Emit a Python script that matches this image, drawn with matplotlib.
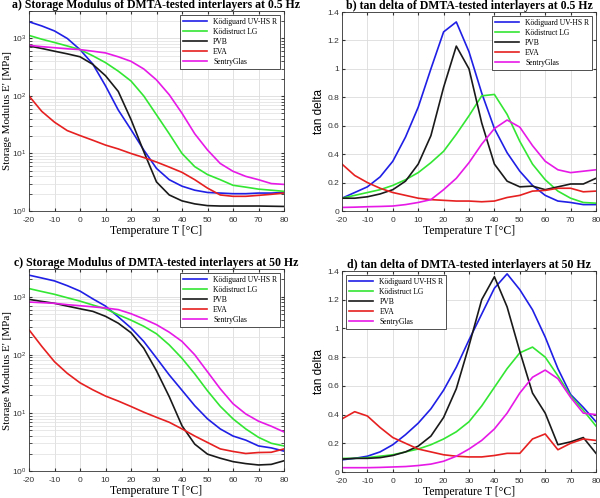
import numpy as np
import matplotlib
matplotlib.use('Agg')
import matplotlib.pyplot as plt

plt.rcParams['axes.unicode_minus'] = False
plt.rcParams['mathtext.fontset'] = 'custom'
plt.rcParams['mathtext.rm'] = 'Liberation Sans'

# temperatures (5 degree steps)
temps = list(range(-20, 85, 5))
names = ['Ködiguard UV-HS R', 'Ködistruct LG', 'PVB', 'EVA', 'SentryGlas']
colors = ['#1f1fe6', '#33e633', '#1a1a1a', '#e62020', '#e619e6']

# a) storage modulus at 0.5 Hz [MPa]
e05_kodiguard = [1950, 1650, 1350, 1000, 640, 360, 150, 57, 26, 11.5, 5.5, 3.5, 2.7, 2.3, 2.1, 2.05, 2.0, 2.0, 2.05, 2.05, 2.1]
e05_kodistruct = [1130, 970, 850, 740, 640, 500, 380, 270, 182, 100, 47, 22, 10, 5.9, 4.3, 3.5, 2.8, 2.6, 2.4, 2.3, 2.2]
e05_pvb = [740, 670, 600, 540, 480, 355, 225, 120, 39, 10.8, 3.2, 1.9, 1.5, 1.33, 1.24, 1.22, 1.22, 1.22, 1.22, 1.21, 1.2]
e05_eva = [100, 54, 35, 25, 20.5, 17, 14, 12, 10, 8.5, 7.1, 5.8, 4.7, 3.5, 2.5, 1.9, 1.8, 1.8, 1.87, 1.95, 2.05]
e05_sentry = [760, 720, 690, 660, 640, 600, 560, 480, 400, 295, 190, 105, 50, 22, 11.5, 6.7, 4.9, 4.0, 3.5, 3.0, 2.9]

# b) tan delta at 0.5 Hz
td05_kodiguard = [0.09, 0.13, 0.17, 0.24, 0.35, 0.52, 0.73, 1.0, 1.26, 1.33, 1.12, 0.83, 0.58, 0.41, 0.28, 0.18, 0.11, 0.07, 0.06, 0.045, 0.045]
td05_kodistruct = [0.09, 0.11, 0.13, 0.15, 0.18, 0.22, 0.27, 0.34, 0.42, 0.54, 0.67, 0.81, 0.82, 0.68, 0.49, 0.33, 0.22, 0.14, 0.09, 0.06, 0.055]
td05_pvb = [0.09, 0.09, 0.10, 0.12, 0.15, 0.21, 0.33, 0.53, 0.87, 1.16, 1.0, 0.62, 0.33, 0.21, 0.17, 0.175, 0.15, 0.17, 0.19, 0.19, 0.23]
td05_eva = [0.33, 0.25, 0.2, 0.16, 0.13, 0.11, 0.09, 0.08, 0.075, 0.07, 0.07, 0.065, 0.07, 0.095, 0.11, 0.14, 0.145, 0.16, 0.16, 0.135, 0.14]
td05_sentry = [0.025, 0.027, 0.03, 0.032, 0.035, 0.045, 0.06, 0.08, 0.15, 0.23, 0.34, 0.47, 0.58, 0.64, 0.59, 0.46, 0.35, 0.29, 0.27, 0.28, 0.29]

# c) storage modulus at 50 Hz [MPa]
e50_kodiguard = [2350, 2100, 1870, 1550, 1250, 920, 690, 450, 290, 170, 88, 45, 24.5, 13.3, 7.9, 5.3, 4.0, 3.4, 2.7, 2.5, 2.2]
e50_kodistruct = [1380, 1230, 1100, 960, 840, 720, 620, 490, 395, 310, 230, 148, 87, 47, 24, 13, 7.9, 5.3, 3.8, 3.0, 2.7]
e50_pvb = [900, 830, 770, 690, 620, 560, 460, 350, 240, 130, 53, 19, 6.0, 2.9, 1.95, 1.66, 1.45, 1.34, 1.27, 1.3, 1.5]
e50_eva = [270, 140, 76, 48, 33, 25, 19.5, 16, 12.9, 10.3, 8.4, 6.9, 5.3, 4.0, 3.1, 2.4, 2.17, 2.0, 2.08, 2.1, 2.4]
e50_sentry = [810, 790, 770, 730, 700, 670, 640, 600, 510, 415, 330, 245, 170, 100, 51, 26, 14.4, 9.6, 7.2, 5.9, 4.7]

# d) tan delta at 50 Hz
td50_kodiguard = [0.085, 0.095, 0.11, 0.14, 0.19, 0.26, 0.34, 0.44, 0.57, 0.73, 0.92, 1.1, 1.28, 1.38, 1.27, 1.13, 0.94, 0.72, 0.54, 0.45, 0.35]
td50_kodistruct = [0.095, 0.095, 0.1, 0.11, 0.12, 0.14, 0.16, 0.19, 0.23, 0.28, 0.35, 0.46, 0.59, 0.72, 0.83, 0.87, 0.8, 0.67, 0.53, 0.43, 0.32]
td50_pvb = [0.09, 0.095, 0.095, 0.1, 0.115, 0.14, 0.18, 0.25, 0.38, 0.58, 0.88, 1.2, 1.36, 1.15, 0.84, 0.55, 0.41, 0.19, 0.21, 0.24, 0.13]
td50_eva = [0.37, 0.42, 0.39, 0.31, 0.24, 0.2, 0.16, 0.14, 0.12, 0.11, 0.105, 0.105, 0.115, 0.13, 0.13, 0.23, 0.265, 0.155, 0.2, 0.23, 0.22]
td50_sentry = [0.03, 0.03, 0.03, 0.032, 0.035, 0.038, 0.045, 0.055, 0.075, 0.11, 0.16, 0.22, 0.3, 0.41, 0.55, 0.66, 0.71, 0.65, 0.52, 0.41, 0.4]

serif = 'Liberation Serif'
sans = 'Liberation Sans'

fig = plt.figure(figsize=(6, 4.98), dpi=100)
W, H = 600, 498

def make_ax(x0, y0, x1, y1):
    return fig.add_axes([x0 / W, 1 - y1 / H, (x1 - x0) / W, (y1 - y0) / H])

panels = [
    (make_ax(29, 11, 284, 211), 'a) Storage Modulus of DMTA-tested interlayers at 0.5 Hz', True,
     [e05_kodiguard, e05_kodistruct, e05_pvb, e05_eva, e05_sentry], 'upper right'),
    (make_ax(342, 12, 596, 211), 'b) tan delta of DMTA-tested interlayers at 0.5 Hz', False,
     [td05_kodiguard, td05_kodistruct, td05_pvb, td05_eva, td05_sentry], 'upper right'),
    (make_ax(29, 269, 284, 471), 'c) Storage Modulus of DMTA-tested interlayers at 50 Hz', True,
     [e50_kodiguard, e50_kodistruct, e50_pvb, e50_eva, e50_sentry], 'upper right'),
    (make_ax(342, 271, 596, 472), 'd) tan delta of DMTA-tested interlayers at 50 Hz', False,
     [td50_kodiguard, td50_kodistruct, td50_pvb, td50_eva, td50_sentry], 'upper left'),
]

for ax, title, logy, series, loc in panels:
    for vals, name, c in zip(series, names, colors):
        ax.plot(temps, vals, color=c, lw=1.2, label=name)
    ax.set_xlim(-20, 80)
    ax.set_xticks(range(-20, 81, 10))
    if logy:
        ax.set_yscale('log')
        ax.set_ylim(1, 3000)
        ax.set_ylabel("Storage Modulus E' [MPa]", fontsize=8, family=serif, labelpad=0)
        ax.grid(True, which='minor', color='#e4e4e4', lw=0.6)
    else:
        ax.set_ylim(0, 1.4)
        ax.set_yticks(np.arange(0, 1.41, 0.2))
        ax.set_yticklabels(['0', '0.2', '0.4', '0.6', '0.8', '1', '1.2', '1.4'])
        ax.set_ylabel('tan delta', fontsize=8.5, family=sans, labelpad=2)
    ax.grid(True, which='major', color='#dcdcdc', lw=0.6)
    ax.set_axisbelow(True)
    ax.set_xlabel('Temperature T [°C]', fontsize=8.5, family=serif, labelpad=1)
    ax.set_title(title, fontsize=8.5, family=serif, fontweight='bold', pad=2)
    ax.tick_params(direction='in', labelsize=6, length=2.5, which='both', top=True, right=True,
                   colors='#333333', pad=2)
    ax.tick_params(axis='x', pad=4)
    for lbl in ax.get_xticklabels() + ax.get_yticklabels():
        lbl.set_family(sans)
    for s in ax.spines.values():
        s.set_color('#333333')
        s.set_linewidth(0.6)
    leg = ax.legend(loc=loc, prop={'family': serif, 'size': 5.5}, fancybox=False,
                    framealpha=1, edgecolor='#333333', borderpad=0.4, labelspacing=0.25,
                    handlelength=3.2, borderaxespad=0.5)
    leg.get_frame().set_linewidth(0.6)

fig.savefig('out.png', dpi=100)
